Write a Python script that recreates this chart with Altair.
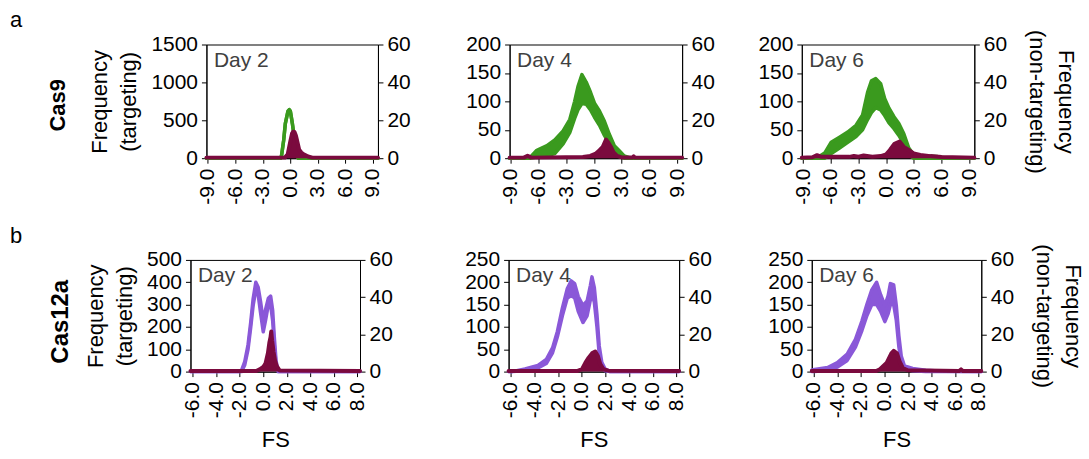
import altair as alt
import pandas as pd

FONT = "Liberation Sans"
GREEN = "#3a9a1e"
PURPLE = "#8a58d8"
MAROON = "#7b0a3e"
DAYCOL = "#404040"

CAS9_TICKS = [-9, -6, -3, 0, 3, 6, 9]
CAS12_TICKS = [-6, -4, -2, 0, 2, 4, 6, 8]
RIGHT_TICKS = [0, 20, 40, 60]
CAS9_DOM = [-9.15, 9.55]
CAS12_DOM = [-6.18, 8.22]

# ---------------- Cas9, Day 2 ----------------
A1_T_X = [-9.15, -1.05, -0.96, -0.73, -0.55, -0.26, -0.11, 0.0, 0.22, 0.47, 0.72, 0.85, 9.55]
A1_T_HI = [0, 0, 36, 235, 456, 620, 640, 620, 456, 235, 36, 0, 0]
A1_T_LO = [0, 0, 36, 235, 456, 620, 640, 620, 456, 235, 36, 0, 0]
A1_N_X = [-9.15, -0.6, -0.29, 0.0, 0.18, 0.3, 0.45, 0.6, 0.75, 0.96, 1.2, 1.4, 1.93, 2.4, 9.55]
A1_N_Y = [0.3, 0.3, 2.0, 9.0, 13.0, 14.0, 13.8, 12.0, 9.0, 4.5, 3.0, 2.2, 0.9, 0.3, 0.3]

# ---------------- Cas9, Day 4 ----------------
A2_T_X = [-9.15, -7.0, -6.2, -5.1, -4.25, -3.35, -2.63, -2.1, -1.74, -1.31, -0.85, -0.38, 0.05, 0.59, 1.13, 1.66, 2.2, 2.74, 3.27, 4.0, 9.55]
A2_T_HI = [0, 0, 14, 22, 32, 48, 68, 100, 126, 147, 134, 116, 97, 83, 65, 42, 22, 13, 4, 0, 0]
A2_T_LO = [0, 0, 2, 4, 8, 25, 45, 70, 85, 96, 95, 85, 72, 58, 40, 25, 11, 3, 0, 0, 0]
A2_N_X = [-9.15, -7.6, -7.2, -6.8, -1.2, -0.4, 0.2, 0.6, 0.95, 1.3, 1.55, 1.86, 2.1, 2.5, 3.0, 4.2, 4.3, 4.4, 9.55]
A2_N_Y = [0.3, 0.3, 1.3, 0.3, 0.6, 1.2, 2.5, 4.2, 6.0, 9.8, 8.3, 5.8, 3.2, 1.2, 0.4, 0.4, 1.0, 0.4, 0.3]

# ---------------- Cas9, Day 6 ----------------
A3_T_X = [-9.15, -7.57, -6.67, -5.96, -5.06, -4.17, -3.27, -2.56, -2.02, -1.6, -1.13, -0.6, -0.17, 0.3, 0.84, 1.37, 1.91, 2.45, 2.98, 4.06, 5.49, 6.56, 9.55]
A3_T_HI = [0, 0, 9, 28, 37, 46, 58, 76, 116, 136, 140, 131, 105, 88, 73, 61, 43, 18, 6, 4, 3, 0, 0]
A3_T_LO = [0, 0, 0, 8, 18, 28, 38, 50, 68, 80, 89, 85, 75, 62, 52, 40, 25, 6, 0, 0, 0, 0, 0]
A3_N_X = [-9.15, -8.0, -7.5, -7.0, -4.0, -3.5, -3.0, -2.45, -1.5, -0.6, 0.0, 0.4, 0.9, 1.45, 1.9, 2.45, 2.98, 3.7, 4.8, 6.0, 9.55]
A3_N_Y = [0.3, 0.5, 1.6, 0.7, 0.7, 1.2, 0.8, 1.4, 0.8, 1.1, 2.0, 4.3, 7.6, 8.8, 6.0, 4.3, 2.5, 1.7, 1.1, 0.6, 0.3]

# ---------------- Cas12a, Day 2 ----------------
B1_T_X = [-6.18, -2.0, -1.85, -1.57, -1.29, -1.06, -0.86, -0.63, -0.43, -0.23, 0.0, 0.2, 0.43, 0.63, 0.8, 0.94, 1.09, 1.28, 8.22]
B1_T_HI = [0, 0, 4, 45, 120, 222, 325, 400, 378, 315, 228, 278, 328, 338, 275, 155, 48, 0, 0]
B1_T_LO = [0, 0, 0, 30, 100, 200, 295, 365, 345, 265, 178, 230, 298, 298, 228, 118, 30, 0, 0]
B1_N_X = [-6.18, -0.6, -0.3, 0.0, 0.2, 0.4, 0.52, 0.62, 0.68, 0.76, 0.88, 1.0, 1.15, 1.4, 8.22]
B1_N_Y = [0.3, 0.3, 1.2, 2.5, 4.5, 10, 15.5, 18.5, 21.5, 16.5, 10.5, 6.0, 3.0, 0.6, 0.3]

# ---------------- Cas12a, Day 4 ----------------
B2_T_X = [-6.18, -5.9, -4.8, -3.7, -3.0, -2.47, -2.06, -1.64, -1.22, -0.9, -0.6, -0.3, 0.1, 0.45, 0.72, 0.86, 1.06, 1.28, 1.47, 1.69, 1.97, 2.4, 8.22]
B2_T_HI = [0, 0, 6, 14, 27, 53, 90, 142, 186, 203, 197, 168, 148, 158, 192, 212, 188, 128, 58, 21, 6, 0, 0]
B2_T_LO = [0, 0, 2, 8, 18, 42, 78, 125, 165, 170, 165, 135, 110, 125, 160, 175, 155, 100, 40, 10, 2, 0, 0]
B2_N_X = [-6.18, -0.4, 0.03, 0.31, 0.58, 0.86, 1.14, 1.36, 1.56, 1.83, 2.25, 8.22]
B2_N_Y = [0.3, 0.3, 1.4, 4.8, 7.5, 9.8, 10.8, 8.4, 4.0, 1.3, 0.5, 0.3]

# ---------------- Cas12a, Day 6 ----------------
B3_T_X = [-6.18, -5.94, -4.83, -4.0, -3.17, -2.47, -1.92, -1.5, -1.08, -0.67, -0.33, 0.03, 0.31, 0.5, 0.78, 1.0, 1.22, 1.42, 1.69, 2.39, 3.5, 5.0, 8.22]
B3_T_HI = [3, 5, 9, 20, 39, 72, 113, 150, 183, 200, 172, 148, 170, 197, 194, 148, 80, 35, 13, 7, 3, 1, 0]
B3_T_LO = [0, 0, 3, 10, 25, 55, 92, 125, 150, 150, 135, 112, 130, 150, 150, 115, 55, 20, 6, 2, 0, 0, 0]
B3_N_X = [-6.18, -0.7, -0.39, 0.17, 0.58, 0.78, 1.06, 1.28, 1.56, 1.97, 6.35, 6.5, 6.65, 8.22]
B3_N_Y = [0.3, 0.3, 1.3, 4.6, 9.8, 11.2, 9.8, 5.5, 1.9, 0.7, 0.3, 1.2, 0.3, 0.3]

X_LABEL_EXPR = "(datum.value < 0 ? '-' : '') + format(abs(datum.value), '.1f')"


def panel(tx, thi, tlo, nx, ny, color, xdom, xticks, ymax, yticks, day,
          w, h, left_title, right_title, x_title):
    t_df = pd.DataFrame({"x": tx, "hi": thi, "lo": tlo})
    n_df = pd.DataFrame({"x": nx, "y": ny})
    xax = alt.Axis(values=xticks, labelAngle=270, labelExpr=X_LABEL_EXPR,
                   labelFlush=False, labelOverlap=False, labelPadding=5,
                   labelFontSize=21, title=x_title, titlePadding=12)
    X = alt.X("x:Q", scale=alt.Scale(domain=xdom, nice=False, zero=False), axis=xax)
    ys = alt.Scale(domain=[0, ymax], nice=False, zero=True)
    lax = alt.Axis(orient="left", values=yticks, format="d", title=left_title,
                   titlePadding=10, labelOverlap=False, titleLineHeight=29)
    t_area = alt.Chart(t_df).mark_area(color=color, opacity=1).encode(
        x=X, y=alt.Y("hi:Q", scale=ys, axis=lax), y2="lo:Q")
    t_hi = alt.Chart(t_df).mark_line(color=color, strokeWidth=3.5, strokeCap="round",
                                     strokeJoin="round").encode(
        x=X, y=alt.Y("hi:Q", scale=ys, axis=lax))
    t_lo = alt.Chart(t_df).mark_line(color=color, strokeWidth=3.5, strokeCap="round",
                                     strokeJoin="round").encode(
        x=X, y=alt.Y("lo:Q", scale=ys, axis=lax))
    day_txt = alt.Chart(pd.DataFrame({"t": [day]})).mark_text(
        align="left", baseline="top", fontSize=21, font=FONT, color=DAYCOL).encode(
        x=alt.value(7.5), y=alt.value(5.5), text="t:N")
    t_layer = alt.layer(t_area, t_hi, t_lo, day_txt)

    yr = alt.Scale(domain=[0, 60], nice=False, zero=True)
    rax = alt.Axis(orient="right", values=RIGHT_TICKS, format="d", title=right_title,
                   titlePadding=18, labelOverlap=False, titleLineHeight=29)
    n_area = alt.Chart(n_df).mark_area(color=MAROON, opacity=1).encode(
        x=X, y=alt.Y("y:Q", scale=yr, axis=rax))
    n_line = alt.Chart(n_df).mark_line(color=MAROON, strokeWidth=4, strokeCap="round",
                                       strokeJoin="round").encode(
        x=X, y=alt.Y("y:Q", scale=yr, axis=rax))
    n_layer = alt.layer(n_area, n_line)
    return alt.layer(t_layer, n_layer).resolve_scale(y="independent").properties(
        width=w, height=h)


def spacer(w, h):
    return alt.Chart(pd.DataFrame({"v": [0]})).mark_point(opacity=0).encode(
        x=alt.value(0), y=alt.value(0)).properties(
        width=w, height=h, view=alt.ViewBackground(stroke="transparent"))


def row_label(w, h, letter, name, name_size, letter_y, name_x, name_y):
    let = alt.Chart(pd.DataFrame({"t": [letter]})).mark_text(
        align="left", baseline="alphabetic", fontSize=22, font=FONT, color="black").encode(
        x=alt.value(9), y=alt.value(letter_y), text="t:N")
    nm = alt.Chart(pd.DataFrame({"t": [name]})).mark_text(
        angle=270, align="center", baseline="middle", fontSize=name_size,
        fontWeight="bold", font=FONT, color="black").encode(
        x=alt.value(name_x), y=alt.value(name_y), text="t:N")
    return alt.layer(let, nm).properties(
        width=w, height=h, view=alt.ViewBackground(stroke="transparent"))


LEFT_T = ["Frequency", "(targeting)"]
RIGHT_T = ["Frequency", "(non-targeting)"]
HA = 114
HB = 112

rowA = alt.hconcat(
    row_label(206, HA, "a", "Cas9", 22, -18, 57, 61),
    panel(A1_T_X, A1_T_HI, A1_T_LO, A1_N_X, A1_N_Y, GREEN, CAS9_DOM, CAS9_TICKS,
          1500, [0, 500, 1000, 1500], "Day 2", 172, HA, LEFT_T, None, None),
    spacer(132, HA),
    panel(A2_T_X, A2_T_HI, A2_T_LO, A2_N_X, A2_N_Y, GREEN, CAS9_DOM, CAS9_TICKS,
          200, [0, 50, 100, 150, 200], "Day 4", 173, HA, None, None, None),
    spacer(120, HA),
    panel(A3_T_X, A3_T_HI, A3_T_LO, A3_N_X, A3_N_Y, GREEN, CAS9_DOM, CAS9_TICKS,
          200, [0, 50, 100, 150, 200], "Day 6", 173, HA, None, RIGHT_T, None),
    spacing=0, bounds="flush")

rowB = alt.hconcat(
    row_label(190, HB, "b", "Cas12a", 24, -17, 60, 62),
    panel(B1_T_X, B1_T_HI, B1_T_LO, B1_N_X, B1_N_Y, PURPLE, CAS12_DOM, CAS12_TICKS,
          500, [0, 100, 200, 300, 400, 500], "Day 2", 170, HB, LEFT_T, None, "FS"),
    spacer(149, HB),
    panel(B2_T_X, B2_T_HI, B2_T_LO, B2_N_X, B2_N_Y, PURPLE, CAS12_DOM, CAS12_TICKS,
          250, [0, 50, 100, 150, 200, 250], "Day 4", 171, HB, None, None, "FS"),
    spacer(133, HB),
    panel(B3_T_X, B3_T_HI, B3_T_LO, B3_N_X, B3_N_Y, PURPLE, CAS12_DOM, CAS12_TICKS,
          250, [0, 50, 100, 150, 200, 250], "Day 6", 170, HB, None, RIGHT_T, "FS"),
    spacing=0, bounds="flush")

# nested concat groups count as zero height with flush bounds, so the spacing
# spans row A's plot height plus the gap between the rows
chart = alt.vconcat(rowA, rowB, spacing=216, bounds="flush").properties(
    padding={"left": 0, "top": 7, "right": 5, "bottom": 5}
).configure(font=FONT).configure_axis(
    labelFont=FONT, titleFont=FONT, labelFontSize=21, titleFontSize=22,
    titleFontWeight="normal", grid=False, domainColor="black", tickColor="black",
    labelColor="black", titleColor="black", tickSize=5, domainWidth=1,
    labelPadding=4
).configure_view(stroke="black", strokeWidth=1)

chart.save("out.html", embed_options={"renderer": "svg", "actions": False})
